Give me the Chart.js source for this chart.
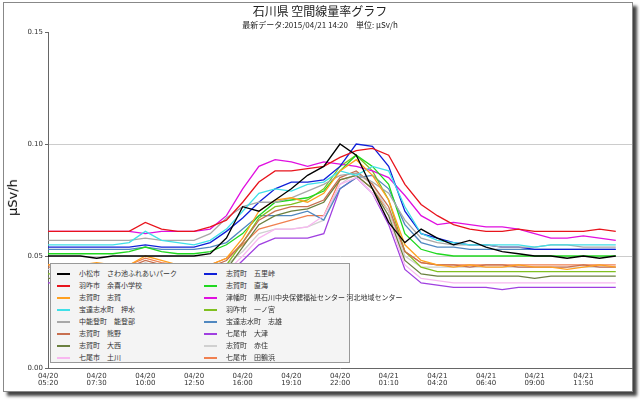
<!DOCTYPE html>
<html><head><meta charset="utf-8">
<script src="https://cdn.jsdelivr.net/npm/chart.js@4"></script>
<style>
body{margin:0;background:#fff;font-family:"Noto Sans CJK JP",sans-serif;}
#frame{position:absolute;left:3px;top:2px;width:628px;height:388px;border:1px solid #888;box-shadow:4px 4px 3px #444;background:#fff;}
#wrap{position:absolute;left:0;top:0;width:640px;height:400px;}
#t1{position:absolute;top:2px;left:0;width:640px;text-align:center;font-size:12px;color:#222;}
#t2{position:absolute;top:19px;left:0;width:640px;text-align:center;font-size:8px;color:#222;}
#ylab{position:absolute;left:-6px;top:190px;transform:rotate(-90deg);font-size:13px;font-family:"DejaVu Sans";}
#leg{position:absolute;left:50px;top:263px;width:298px;height:98px;border:1px solid #999;background:#f4f4f4;font-size:7px;color:#333;}
.it{position:absolute;white-space:nowrap;}
.it span{display:inline-block;width:13px;height:2px;vertical-align:middle;margin-right:9px;}
</style></head><body>
<div id="frame"></div>
<div id="wrap"><canvas id="c" width="640" height="400"></canvas></div>
<div id="t1">石川県 空間線量率グラフ</div>
<div id="t2">最新データ:2015/04/21 14:20　単位: μSv/h</div>
<div id="ylab">μSv/h</div>
<div id="leg"></div>
<script>
const tickLabels=[["04/20","05:20"],["04/20","07:30"],["04/20","10:00"],["04/20","12:50"],["04/20","16:00"],["04/20","19:10"],["04/20","22:00"],["04/21","01:10"],["04/21","04:20"],["04/21","06:40"],["04/21","09:00"],["04/21","11:50"]];
const names=["小松市　さわ池ふれあいパーク","羽咋市　余喜小学校","志賀町　志賀","宝達志水町　押水","中能登町　能登部","志賀町　熊野","志賀町　大西","七尾市　土川","志賀町　五里峠","志賀町　直海","津幡町　県石川中央保健福祉センター 河北地域センター","羽咋市　一ノ宮","宝達志水町　志雄","七尾市　大津","志賀町　赤住","七尾市　田鶴浜"];
const colors=["#000000","#e8141c","#ffa020","#40e0e8","#a8a8a8","#c87050","#6b8040","#f8b8f0","#1020d8","#20d820","#e010e0","#80c020","#5088c0","#a040e0","#d0d0d0","#f08050"];
const black=[.050,.050,.050,.049,.050,.050,.050,.050,.050,.050,.051,.058,.072,.070,.075,.080,.086,.090,.100,.095,.080,.065,.056,.062,.058,.055,.057,.054,.052,.051,.050,.050,.049,.050,.049,.050,.050];
const red=[.061,.061,.061,.061,.061,.061,.065,.062,.061,.061,.063,.066,.074,.083,.088,.088,.089,.090,.094,.097,.098,.095,.082,.073,.068,.064,.062,.061,.061,.062,.061,.061,.061,.061,.062,.061,.061];
const orange=[.046,.046,.046,.047,.046,.046,.050,.048,.046,.046,.046,.049,.058,.070,.075,.076,.074,.078,.088,.093,.086,.075,.055,.048,.046,.045,.046,.045,.045,.046,.045,.045,.044,.045,.046,.045,.045];
const cyan=[.055,.055,.055,.055,.055,.056,.061,.057,.056,.055,.057,.062,.070,.078,.080,.079,.082,.083,.088,.086,.090,.088,.072,.060,.057,.056,.055,.055,.055,.055,.054,.055,.055,.055,.055,.055,.054];
const gray=[.057,.057,.057,.057,.057,.057,.058,.057,.057,.057,.060,.067,.072,.074,.074,.076,.079,.082,.086,.087,.083,.078,.066,.058,.056,.055,.055,.055,.054,.054,.054,.055,.055,.054,.054,.054,.054];
const sienna=[.045,.045,.045,.045,.045,.045,.048,.046,.045,.045,.045,.048,.056,.066,.070,.072,.072,.075,.085,.088,.082,.072,.052,.047,.046,.046,.045,.046,.046,.045,.045,.045,.045,.046,.045,.045,.045];
const olive=[.040,.040,.040,.040,.040,.040,.042,.041,.040,.040,.041,.044,.054,.064,.068,.070,.071,.074,.084,.086,.080,.068,.048,.042,.041,.041,.041,.041,.041,.041,.040,.041,.041,.041,.041,.041,.041];
const lightpink=[.040,.040,.040,.040,.040,.040,.042,.041,.040,.040,.040,.043,.050,.058,.062,.062,.063,.068,.082,.085,.078,.066,.046,.040,.039,.038,.038,.038,.038,.038,.038,.038,.038,.038,.038,.038,.038];
const blue=[.054,.054,.054,.054,.054,.054,.055,.054,.054,.054,.056,.061,.067,.074,.080,.083,.083,.084,.090,.100,.099,.090,.070,.060,.058,.056,.055,.055,.054,.054,.053,.053,.053,.053,.053,.053,.053];
const green=[.051,.051,.051,.051,.051,.052,.054,.052,.051,.051,.052,.055,.060,.068,.074,.075,.076,.079,.088,.095,.090,.082,.060,.053,.051,.050,.050,.050,.050,.050,.050,.050,.050,.050,.050,.050,.050];
const magenta=[.061,.061,.061,.061,.061,.061,.060,.061,.061,.061,.062,.068,.080,.090,.093,.092,.090,.092,.091,.090,.088,.085,.077,.068,.064,.065,.064,.063,.063,.062,.060,.058,.058,.059,.058,.057,.058];
const yellowgreen=[.042,.042,.042,.042,.042,.042,.044,.043,.042,.042,.043,.046,.056,.067,.072,.073,.075,.080,.090,.095,.088,.075,.052,.045,.043,.043,.043,.043,.043,.043,.043,.043,.043,.043,.043,.043,.043];
const steelblue=[.053,.053,.053,.053,.053,.053,.054,.053,.053,.053,.054,.056,.062,.068,.068,.068,.070,.066,.080,.085,.086,.080,.064,.056,.054,.054,.053,.053,.053,.053,.053,.053,.053,.053,.053,.053,.053];
const purple=[.038,.038,.038,.038,.038,.038,.040,.039,.038,.038,.038,.041,.048,.055,.058,.058,.058,.060,.080,.085,.078,.064,.044,.038,.037,.036,.036,.036,.035,.036,.036,.036,.036,.036,.036,.036,.036];
const lightgray=[.044,.044,.044,.045,.044,.044,.047,.045,.044,.044,.044,.046,.052,.060,.062,.062,.063,.066,.082,.087,.082,.070,.050,.045,.045,.045,.045,.045,.045,.045,.045,.045,.045,.045,.045,.045,.045];
const coral=[.046,.046,.046,.046,.046,.046,.049,.047,.046,.046,.046,.049,.055,.062,.064,.066,.068,.068,.084,.086,.080,.070,.052,.047,.046,.046,.046,.046,.046,.046,.046,.046,.046,.046,.046,.046,.046];
const series=[black,red,orange,cyan,gray,sienna,olive,lightpink,blue,green,magenta,yellowgreen,steelblue,purple,lightgray,coral];
const labels=black.map((_,i)=>i%3===0?tickLabels[i/3]:"");
const datasets=series.map((d,k)=>({label:names[k],data:d,borderColor:colors[k],borderWidth:1.3,pointRadius:0,tension:0,fill:false}));
const leg=document.getElementById('leg');
names.forEach((n,k)=>{const col=k<8?0:1,row=k%8;const d=document.createElement('div');d.className='it';d.style.left=(col?153:6)+'px';d.style.top=(4+row*12)+'px';d.innerHTML='<span style="background:'+colors[k]+'"></span>'+n;leg.appendChild(d);});
new Chart(document.getElementById('c'),{type:'line',data:{labels,datasets},
options:{responsive:false,animation:false,layout:{padding:{top:32,right:8,left:0,bottom:0}},
plugins:{legend:{display:false},tooltip:{enabled:false}},
scales:{
x:{offset:false,grid:{display:false,drawTicks:true,tickLength:3},border:{color:'#666'},ticks:{autoSkip:false,maxRotation:0,padding:1,font:{size:7,family:'DejaVu Sans',lineHeight:1.1},color:'#333',callback:(v,i)=>labels[i]},afterFit:s=>{s.height=32;}},
y:{min:0,max:0.15,grid:{color:c=>(c.tick.value>0&&c.tick.value<0.15)?'#ccc':'rgba(0,0,0,0)',tickColor:'#666',tickLength:3},border:{color:'#666'},ticks:{stepSize:0.05,padding:2,font:{size:7,family:'DejaVu Sans'},color:'#333',callback:v=>v.toFixed(2)},afterFit:s=>{s.width=48;}}
}}});
</script></body></html>
